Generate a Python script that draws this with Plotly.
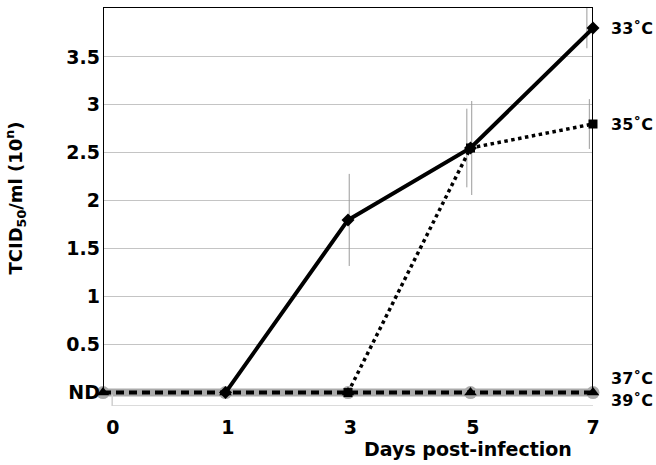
import plotly.graph_objects as go

days = ["0", "1", "3", "5", "7"]
nd = 0.0
t33 = [nd, nd, 1.8, 2.55, 3.8]
t33_err = [0, 0, 0.48, 0.49, 0.21]
t35 = [nd, nd, nd, 2.55, 2.8]
t35_err = [0, 0, 0, 0.41, 0.26]
t37 = [nd, nd, nd, nd, nd]
t39 = [nd, nd, nd, nd, nd]
ytick_vals = [0, 0.5, 1, 1.5, 2, 2.5, 3, 3.5]
ytick_text = ["ND", "0.5", "1", "1.5", "2", "2.5", "3", "3.5"]

idx = list(range(len(days)))
FONT = "DejaVu Sans"

fig = go.Figure()
# 39C gray thick
fig.add_trace(go.Scatter(x=idx, y=t39, mode="lines+markers",
                         line=dict(color="#ababab", width=8),
                         marker=dict(symbol="circle", size=13, color="#ababab"),
                         cliponaxis=False, showlegend=False))
# 37C black dashed
fig.add_trace(go.Scatter(x=idx, y=t37, mode="lines+markers",
                         line=dict(color="black", width=4, dash="8px,5px"),
                         marker=dict(symbol="triangle-up", size=11, color="black"),
                         cliponaxis=False, showlegend=False))
# error bars (thin gray, slightly offset)
fig.add_trace(go.Scatter(x=[i - 0.03 for i in idx], y=t35, mode="markers",
                         marker=dict(size=0.1, color="rgba(0,0,0,0)"),
                         error_y=dict(type="data", array=t35_err, visible=True,
                                      color="#9a9a9a", thickness=1, width=0),
                         cliponaxis=False, showlegend=False, hoverinfo="skip"))
fig.add_trace(go.Scatter(x=[i - 0.05 if i == 4 else i + 0.01 for i in idx], y=t33, mode="markers",
                         marker=dict(size=0.1, color="rgba(0,0,0,0)"),
                         error_y=dict(type="data", array=t33_err, visible=True,
                                      color="#9a9a9a", thickness=1, width=0),
                         cliponaxis=False, showlegend=False, hoverinfo="skip"))
# 35C dotted
fig.add_trace(go.Scatter(x=idx[2:], y=t35[2:], mode="lines+markers",
                         line=dict(color="black", width=3.5, dash="dot"),
                         marker=dict(symbol="square", size=9, color="black"),
                         cliponaxis=False, showlegend=False))
# 33C solid
fig.add_trace(go.Scatter(x=idx[1:], y=t33[1:], mode="lines+markers",
                         line=dict(color="black", width=4),
                         marker=dict(symbol="diamond", size=10, color="black"),
                         cliponaxis=False, showlegend=False))

shapes = [
    dict(type="line", xref="x", yref="y", x0=0, x1=0, y0=nd, y1=4.02, line=dict(color="black", width=2)),
    dict(type="line", xref="x", yref="y", x0=4, x1=4, y0=nd, y1=4.02, line=dict(color="black", width=2)),
    dict(type="line", xref="x", yref="y", x0=0, x1=4, y0=4.02, y1=4.02, line=dict(color="black", width=2)),
    dict(type="line", xref="x", yref="y", x0=0.075, x1=4.05, y0=-0.14, y1=-0.14, line=dict(color="#cfcfcf", width=1.5)),
    dict(type="line", xref="x", yref="y", x0=0.075, x1=0.075, y0=-0.14, y1=-0.02, line=dict(color="#cfcfcf", width=1.5)),
]

labels = [("33˚C", 3.8), ("35˚C", 2.8), ("37˚C", 0.15), ("39˚C", -0.08)]
annotations = [dict(x=4, y=yv, xref="x", yref="y", text=t, showarrow=False,
                    xanchor="left", xshift=16, font=dict(family=FONT, size=16, color="black", weight="bold"))
               for t, yv in labels]
annotations.append(dict(x=0.745, y=0, xref="paper", yref="paper", text="Days post-infection",
                        showarrow=False, xanchor="center", yanchor="top", yshift=-30,
                        font=dict(family=FONT, size=19, color="black", weight="bold")))
annotations.append(dict(x=0, y=0.52, xref="paper", yref="paper",
                        text="TCID<sub>50</sub>/ml (10<sup>n</sup>)", textangle=-90,
                        showarrow=False, xanchor="center", yanchor="middle", xshift=-88,
                        font=dict(family=FONT, size=18, color="black", weight="bold")))

fig.update_layout(
    width=656, height=465,
    margin=dict(l=103, r=63, t=7, b=59),
    paper_bgcolor="white", plot_bgcolor="white",
    shapes=shapes, annotations=annotations,
    xaxis=dict(range=[0, 4], tickmode="array", tickvals=[0.08, 1.02, 2.02, 3.02, 4.0],
               ticktext=days, showgrid=False, zeroline=False, showline=False, ticks="",
               automargin=False,
               tickfont=dict(family=FONT, size=19, color="black", weight="bold"), ticklabelstandoff=8),
    yaxis=dict(range=[-0.14, 4.02], tickmode="array", tickvals=ytick_vals, ticktext=ytick_text,
               showgrid=True, gridcolor="#c4c4c4", gridwidth=1, zeroline=False, showline=False,
               automargin=False,
               ticks="", tickfont=dict(family=FONT, size=19, color="black", weight="bold"), ticklabelstandoff=2),
)

fig.write_html("out.html", config={"displayModeBar": False},
               post_script="document.body.style.margin='0';")
